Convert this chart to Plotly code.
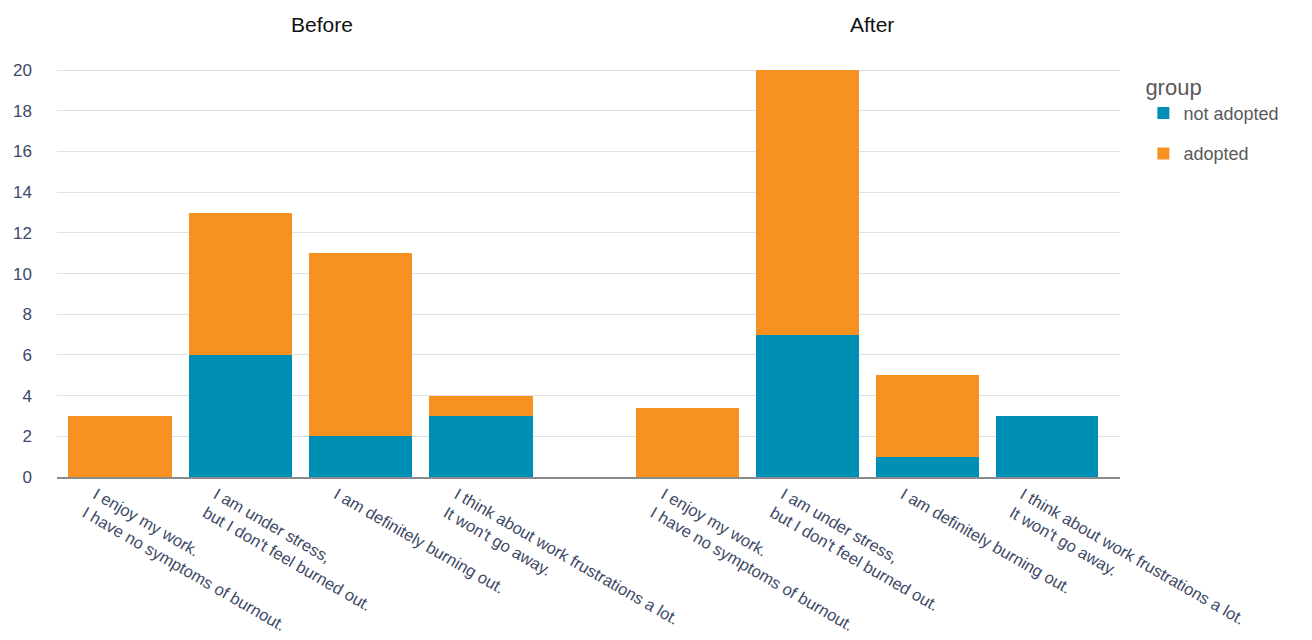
import plotly.graph_objects as go

categories = [
    "I enjoy my work.<br>I have no symptoms of burnout.",
    "I am under stress,<br>but I don't feel burned out.",
    "I am definitely burning out.",
    "I think about work frustrations a lot.<br>It won't go away.",
]
before_not_adopted = [0, 6, 2, 3]
before_adopted = [3, 7, 9, 1]
after_not_adopted = [0, 7, 1, 3]
after_adopted = [3.4, 13, 4, 0]
panel_titles = ["Before", "After"]

BLUE = "#008FB4"
ORANGE = "#F79120"
FONT = "Liberation Sans, Arial, Helvetica, sans-serif"

fig = go.Figure()
fig.add_bar(x=categories, y=before_not_adopted, name="not adopted", marker_color=BLUE,
            marker_line_width=0, width=0.86, xaxis="x", yaxis="y", legendgroup="na")
fig.add_bar(x=categories, y=before_adopted, name="adopted", marker_color=ORANGE,
            marker_line_width=0, width=0.86, xaxis="x", yaxis="y", legendgroup="a")
fig.add_bar(x=categories, y=after_not_adopted, name="not adopted", marker_color=BLUE,
            marker_line_width=0, width=0.86, xaxis="x2", yaxis="y2", legendgroup="na",
            showlegend=False)
fig.add_bar(x=categories, y=after_adopted, name="adopted", marker_color=ORANGE,
            marker_line_width=0, width=0.86, xaxis="x2", yaxis="y2", legendgroup="a",
            showlegend=False)

L, R = 57, 1120
T, B = 60, 163
W = R - L
H = 640 - T - B
split = (605 - L) / W

xcommon = dict(type="category", tickangle=30, showgrid=False, showline=True,
               linecolor="#8a8a8a", linewidth=1.5, ticks="", ticklabelshift=-24,
               automargin=False,
               tickfont=dict(family=FONT, size=16.5, color="#3d4966"))
ycommon = dict(range=[0, 20.5], dtick=2, gridcolor="#dfe1e5", gridwidth=1,
               showline=False, zeroline=False, ticks="", automargin=False)

fig.update_layout(
    width=1312, height=640,
    margin=dict(l=L, r=1312 - R, t=T, b=B, autoexpand=False),
    barmode="stack",
    plot_bgcolor="white", paper_bgcolor="white",
    font=dict(family=FONT),
    xaxis=dict(domain=[0, split], range=[-0.523, 4.03], **xcommon),
    xaxis2=dict(domain=[split, 1], range=[-0.693, 3.61], anchor="y2", **xcommon),
    yaxis=dict(anchor="x", ticklabelstandoff=24,
               tickfont=dict(family=FONT, size=17, color="#3d4966"), **ycommon),
    yaxis2=dict(anchor="x2", matches="y", showticklabels=False, **ycommon),
    legend=dict(x=1.022, y=0.985, xanchor="left", yanchor="top",
                title=dict(text="group", font=dict(family=FONT, size=22, color="#5a5a5a")),
                font=dict(family=FONT, size=18, color="#5a5a5a"),
                tracegroupgap=14, traceorder="grouped"),
    showlegend=True,
    annotations=[
        dict(text=panel_titles[0], x=(322 - L) / W, y=1 + (T - 24) / H, xref="paper", yref="paper",
             xanchor="center", yanchor="middle", showarrow=False,
             font=dict(family=FONT, size=21, color="#111111")),
        dict(text=panel_titles[1], x=(872 - L) / W, y=1 + (T - 24) / H, xref="paper", yref="paper",
             xanchor="center", yanchor="middle", showarrow=False,
             font=dict(family=FONT, size=21, color="#111111")),
    ],
)

fig.write_html("out.html")
